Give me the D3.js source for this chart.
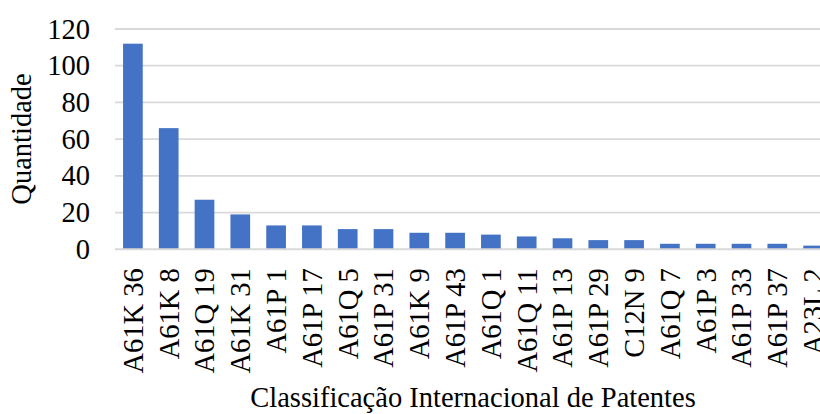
<!DOCTYPE html>
<html>
<head>
<meta charset="utf-8">
<script src="https://cdn.jsdelivr.net/npm/d3@7"></script>
<style>
  html, body { margin: 0; padding: 0; background: #fff; }
  svg { display: block; font-family: "Liberation Serif", "Times New Roman", serif; }
</style>
</head>
<body>
<svg id="chart" width="820" height="414"></svg>
<script>
// Patent classification codes and the number of documents in each
const categories = ["A61K 36", "A61K 8", "A61Q 19", "A61K 31", "A61P 1", "A61P 17", "A61Q 5",
  "A61P 31", "A61K 9", "A61P 43", "A61Q 1", "A61Q 11", "A61P 13", "A61P 29", "C12N 9",
  "A61Q 7", "A61P 3", "A61P 33", "A61P 37", "A23L 2"];
const values = [112, 66, 27, 19, 13, 13, 11, 11, 9, 9, 8, 7, 6, 5, 5, 3, 3, 3, 3, 2];
const yTicks = [0, 20, 40, 60, 80, 100, 120];
const yTitle = "Quantidade";
const xTitle = "Classificação Internacional de Patentes";

const svg = d3.select("#chart");
const fontSize = 28.5;

const x = d3.scaleBand()
  .domain(categories)
  .range([115, 831])
  .paddingInner(0.45)
  .paddingOuter(0.225);

const y = d3.scaleLinear()
  .domain([0, 120])
  .range([249.3, 29]);

// horizontal gridlines
svg.append("g")
  .selectAll("line")
  .data(yTicks.filter(d => d !== 0))
  .join("line")
  .attr("x1", 115).attr("x2", 831)
  .attr("y1", d => y(d)).attr("y2", d => y(d))
  .attr("stroke", "#d9d9d9")
  .attr("stroke-width", 1.8);

// bars
svg.append("g")
  .selectAll("rect")
  .data(values)
  .join("rect")
  .attr("x", (d, i) => x(categories[i]))
  .attr("width", x.bandwidth())
  .attr("y", d => y(d))
  .attr("height", d => y(0) - y(d))
  .attr("fill", "#4472c4");

// baseline (category axis)
svg.append("line")
  .attr("x1", 115).attr("x2", 831)
  .attr("y1", y(0)).attr("y2", y(0))
  .attr("stroke", "#d9d9d9")
  .attr("stroke-width", 2);

// value axis labels
const yAxis = d3.axisLeft(y).tickValues(yTicks).tickSize(0).tickPadding(25);
svg.append("g")
  .attr("transform", "translate(115,0)")
  .call(yAxis)
  .call(g => g.select(".domain").remove())
  .selectAll("text")
  .attr("font-family", "Liberation Serif, Times New Roman, serif")
  .attr("font-size", fontSize)
  .attr("fill", "#000");

// category axis labels, rotated
const xAxis = d3.axisBottom(x).tickSize(0).tickPadding(0);
svg.append("g")
  .attr("transform", `translate(0,${y(0)})`)
  .call(xAxis)
  .call(g => g.select(".domain").remove())
  .selectAll("text")
  .attr("font-family", "Liberation Serif, Times New Roman, serif")
  .attr("font-size", fontSize)
  .attr("fill", "#000")
  .attr("text-anchor", "end")
  .attr("transform", "translate(0,19) rotate(-90)")
  .attr("x", 0)
  .attr("y", 0)
  .attr("dy", "0.35em");

// axis titles
svg.append("text")
  .attr("transform", "translate(31,139) rotate(-90)")
  .attr("text-anchor", "middle")
  .attr("font-size", fontSize)
  .attr("fill", "#000")
  .text(yTitle);

svg.append("text")
  .attr("x", 473)
  .attr("y", 407)
  .attr("text-anchor", "middle")
  .attr("font-size", fontSize)
  .attr("fill", "#000")
  .text(xTitle);
</script>
</body>
</html>
